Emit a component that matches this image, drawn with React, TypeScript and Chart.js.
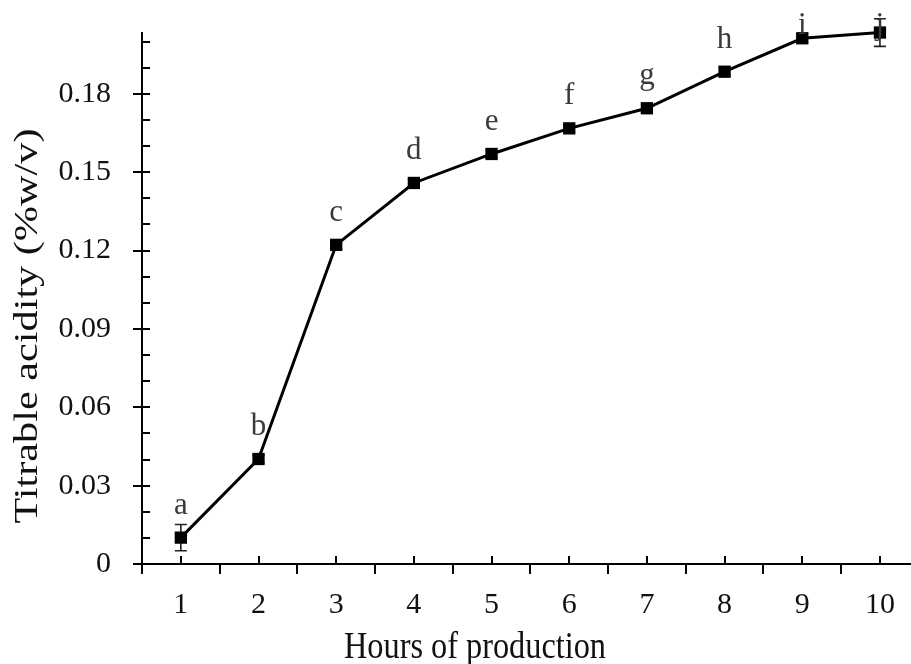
import React, { useEffect, useRef } from "react";
import { Chart, registerables } from "chart.js";

Chart.register(...registerables);

const hours = [1, 2, 3, 4, 5, 6, 7, 8, 9, 10];
const acidity = [0.0101, 0.0402, 0.1222, 0.1459, 0.157, 0.1668, 0.1745, 0.1885, 0.2013, 0.2035];
const errors = [0.005, 0.0015, 0.0015, 0.0015, 0.0015, 0.0015, 0.0015, 0.0015, 0.0015, 0.0053];
const letters = ["a", "b", "c", "d", "e", "f", "g", "h", "i", "j"];
const yTicks = [0, 0.03, 0.06, 0.09, 0.12, 0.15, 0.18];
const yMinorTicks = [0.01, 0.02, 0.04, 0.05, 0.07, 0.08, 0.1, 0.11, 0.13, 0.14, 0.16, 0.17, 0.19, 0.2];
const xBoundaries = [0.5, 1.5, 2.5, 3.5, 4.5, 5.5, 6.5, 7.5, 8.5, 9.5];
const xTitle = "Hours of production";
const yTitle = "Titrable acidity (%w/v)";

const SERIF = "'Liberation Serif', 'Times New Roman', serif";

export default function App() {
  const ref = useRef<HTMLCanvasElement>(null);

  useEffect(() => {
    document.body.style.margin = "0";
    const canvas = ref.current!;

    const overlay = {
      id: "overlay",
      beforeDatasetsDraw(chart: any) {
        const ctx = chart.ctx;
        const xs = chart.scales.x;
        const ys = chart.scales.y;
        const { left, right, top, bottom } = chart.chartArea;
        ctx.save();
        ctx.strokeStyle = "#000";
        ctx.lineWidth = 2;
        ctx.lineCap = "butt";
        ctx.beginPath();
        ctx.moveTo(left, top);
        ctx.lineTo(left, bottom);
        ctx.moveTo(left - 9, bottom);
        ctx.lineTo(right, bottom);
        yTicks.forEach((v) => {
          const y = Math.round(ys.getPixelForValue(v));
          ctx.moveTo(left - 9, y);
          ctx.lineTo(left + 8, y);
        });
        yMinorTicks.forEach((v) => {
          const y = Math.round(ys.getPixelForValue(v));
          ctx.moveTo(left, y);
          ctx.lineTo(left + 8, y);
        });
        xBoundaries.forEach((v) => {
          const x = Math.round(xs.getPixelForValue(v));
          ctx.moveTo(x, bottom);
          ctx.lineTo(x, bottom + 10);
        });
        hours.forEach((v) => {
          const x = Math.round(xs.getPixelForValue(v));
          ctx.moveTo(x, bottom);
          ctx.lineTo(x, bottom - 8);
        });
        ctx.stroke();

        ctx.lineWidth = 1.6;
        ctx.strokeStyle = "#222";
        ctx.beginPath();
        hours.forEach((h, i) => {
          const x = xs.getPixelForValue(h);
          const y1 = ys.getPixelForValue(acidity[i] + errors[i]);
          const y2 = ys.getPixelForValue(acidity[i] - errors[i]);
          ctx.moveTo(x, y1);
          ctx.lineTo(x, y2);
          ctx.moveTo(x - 6, y1);
          ctx.lineTo(x + 6, y1);
          ctx.moveTo(x - 6, y2);
          ctx.lineTo(x + 6, y2);
        });
        ctx.stroke();
        ctx.restore();
      },
      afterDatasetsDraw(chart: any) {
        const ctx = chart.ctx;
        const xs = chart.scales.x;
        const ys = chart.scales.y;
        ctx.save();
        ctx.fillStyle = "#3a3a3a";
        ctx.font = `31px ${SERIF}`;
        ctx.textAlign = "center";
        ctx.textBaseline = "alphabetic";
        hours.forEach((h, i) => {
          const x = xs.getPixelForValue(h);
          const py = ys.getPixelForValue(acidity[i]);
          const y = Math.max(py - 24, 34);
          ctx.fillText(letters[i], x, y);
        });

        ctx.fillStyle = "#111";
        ctx.font = `38px ${SERIF}`;
        const wx = ctx.measureText(xTitle).width;
        ctx.save();
        ctx.translate(475, 658);
        ctx.scale(262 / wx, 1);
        ctx.textAlign = "center";
        ctx.fillText(xTitle, 0, 0);
        ctx.restore();

        ctx.font = `34px ${SERIF}`;
        const wy = ctx.measureText(yTitle).width;
        ctx.save();
        ctx.translate(28, 326);
        ctx.rotate(-Math.PI / 2);
        ctx.scale(395 / wy, 1);
        ctx.textAlign = "center";
        ctx.textBaseline = "middle";
        ctx.fillText(yTitle, 0, 0);
        ctx.restore();
        ctx.restore();
      },
    };

    const chart = new Chart(canvas, {
      type: "line",
      data: {
        datasets: [
          {
            data: hours.map((h, i) => ({ x: h, y: acidity[i] })),
            borderColor: "#000",
            backgroundColor: "#000",
            borderWidth: 3,
            pointStyle: "rect",
            pointRadius: 8.7,
            pointBorderWidth: 0,
            pointBackgroundColor: "#000",
            tension: 0,
            clip: false as any,
          },
        ],
      },
      options: {
        responsive: false,
        animation: false,
        devicePixelRatio: 1,
        layout: { autoPadding: false, padding: { top: 32, right: 0, left: 0, bottom: 0 } },
        plugins: { legend: { display: false }, tooltip: { enabled: false } },
        scales: {
          x: {
            type: "linear",
            min: 0.5,
            max: 10.4,
            grid: { display: false, drawTicks: false },
            border: { display: false },
            afterBuildTicks: (scale: any) => {
              scale.ticks = hours.map((v) => ({ value: v }));
            },
            afterFit: (scale: any) => {
              scale.height = 100;
              scale.paddingLeft = 0;
              scale.paddingRight = 0;
              scale.paddingTop = 0;
              scale.paddingBottom = 0;
            },
            ticks: {
              padding: 23,
              color: "#111",
              font: { family: SERIF, size: 30 },
              maxRotation: 0,
              callback: (v: any) => String(v),
            },
          },
          y: {
            type: "linear",
            min: 0,
            max: 0.2037,
            grid: { display: false, drawTicks: false },
            border: { display: false },
            afterBuildTicks: (scale: any) => {
              scale.ticks = yTicks.map((v) => ({ value: v }));
            },
            afterFit: (scale: any) => {
              scale.width = 142;
              scale.paddingLeft = 0;
              scale.paddingRight = 0;
              scale.paddingTop = 0;
              scale.paddingBottom = 0;
            },
            ticks: {
              padding: 31,
              color: "#111",
              font: { family: SERIF, size: 30 },
              callback: (v: any) => (v === 0 ? "0" : Number(v).toFixed(2)),
            },
          },
        },
      },
      plugins: [overlay],
    });
    return () => chart.destroy();
  }, []);

  return (
    <div style={{ position: "absolute", left: 0, top: 0, width: 911, height: 664, background: "#fff" }}>
      <canvas ref={ref} width={911} height={664} style={{ display: "block" }} />
    </div>
  );
}
